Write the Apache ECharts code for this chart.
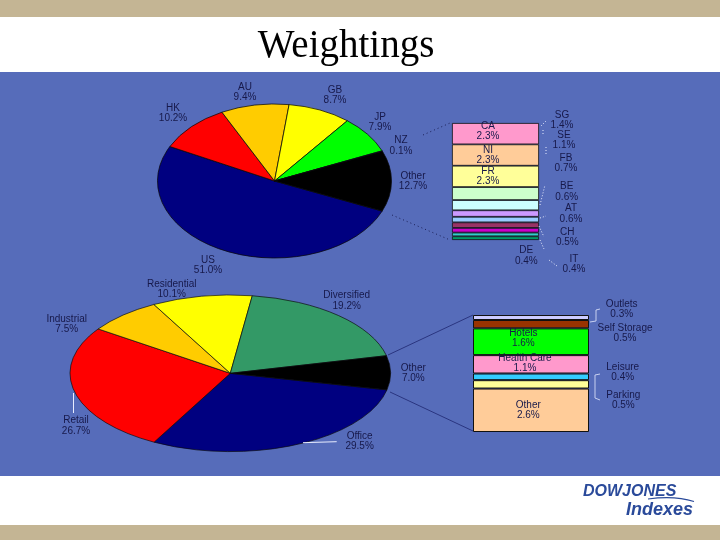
<!DOCTYPE html>
<html><head><meta charset="utf-8">
<script src="https://cdn.jsdelivr.net/npm/echarts@6/dist/echarts.min.js"></script>
<style>html,body{margin:0;padding:0;background:#fff}#c{width:720px;height:540px}</style>
</head><body><div id="c"></div>
<script>
// ---------------- data ----------------
const countryNames = ['US', 'HK', 'AU', 'GB', 'JP', 'NZ', 'Other'];
const countryWeights = [51.0, 10.2, 9.4, 8.7, 7.9, 0.1, 12.7];

const otherCountryNames = ['CA', 'NI', 'FR', 'SG', 'SE', 'FB', 'BE', 'AT', 'CH', 'DE', 'IT'];
const otherCountryWeights = [2.3, 2.3, 2.3, 1.4, 1.1, 0.7, 0.6, 0.6, 0.5, 0.4, 0.4];

const sectorNames = ['Office', 'Retail', 'Industrial', 'Residential', 'Diversified', 'Other'];
const sectorWeights = [29.5, 26.7, 7.5, 10.1, 19.2, 7.0];

const otherSectorNames = ['Outlets', 'Self Storage', 'Hotels', 'Health Care', 'Leisure', 'Parking', 'Other'];
const otherSectorWeights = [0.3, 0.5, 1.6, 1.1, 0.4, 0.5, 2.6];

const titleText = 'Weightings';

// ---------------- styles / layout ----------------
const LABEL_COLOR = '#17194a';
const FONT = '10px "Liberation Sans", Arial, sans-serif';
const countryColors = ['#000080', '#FF0000', '#FFCC00', '#FFFF00', '#00FF00', '#00CCCC', '#000000'];
const otherCountryColors = ['#FF99CC', '#FFCC99', '#FFFF99', '#CCFFCC', '#CCFFFF', '#CC99FF', '#99CCFF', '#993366', '#CC00CC', '#33CCCC', '#009966'];
const sectorColors = ['#000080', '#FF0000', '#FFCC00', '#FFFF00', '#339966', '#000000'];
const otherSectorColors = ['#CCCCFF', '#993300', '#00FF00', '#FF99CC', '#33CCFF', '#FFFF99', '#FFCC99'];

const topPie = {cx: 274.5, cy: 181, rx: 117, ry: 77, start: -23};
const botPie = {cx: 230.3, cy: 373.3, rx: 160.3, ry: 78.3, start: -12.2};

const countryLabelPos = {US: [208, 265], HK: [173, 113], AU: [245, 92], GB: [335, 95], JP: [380, 122], NZ: [401, 145.5], Other: [413, 181]};
const sectorLabelPos = {Office: [359.6, 441.2], Retail: [76, 425.5], Industrial: [66.7, 324.2], Residential: [171.7, 289.3], Diversified: [346.7, 300.5], Other: [413.3, 373]};
const otherCountryOutsidePos = {SG: [562, 120], SE: [564, 140.3], FB: [566, 163], BE: [566.7, 191.7], AT: [571, 213.7], CH: [567.3, 237], DE: [526.3, 255.5], IT: [574, 264]};
const otherCountryInside = {CA: {pos: 'insideTop', off: [-7.5, -2]}, NI: {pos: 'insideTop', off: [-7.5, 1]}, FR: {pos: 'insideTop', off: [-7.5, 0.5]}};
const otherSectorOutsidePos = {'Outlets': [621.7, 309], 'Self Storage': [625, 333], 'Leisure': [622.7, 372.3], 'Parking': [623.3, 400]};
const otherSectorInside = {'Hotels': {pos: 'insideTop', off: [-7.7, 0]}, 'Health Care': {pos: 'insideTop', off: [-6, -2]}, 'Other': {pos: 'inside', off: [-2.7, 0]}};

const pct = v => v.toFixed(1) + '%';

function ellipsePie(names, values, colors, p) {
  const total = values.reduce((a, b) => a + b, 0);
  const starts = [];
  let acc = 0;
  values.forEach(v => { starts.push(acc); acc += v; });
  return {
    type: 'custom', coordinateSystem: 'none', silent: true, z: 2,
    data: values.map((v, i) => ({name: names[i], value: [v, starts[i]]})),
    renderItem: (params, api) => {
      const v = api.value(0), s = api.value(1);
      const a0 = (p.start - s / total * 360) * Math.PI / 180;
      const a1 = (p.start - (s + v) / total * 360) * Math.PI / 180;
      return {
        type: 'sector', x: p.cx, y: p.cy, scaleX: 1, scaleY: p.ry / p.rx,
        shape: {cx: 0, cy: 0, r0: 0, r: p.rx, startAngle: -a0, endAngle: -a1, clockwise: true},
        style: {fill: colors[params.dataIndex], stroke: '#0a0a0a', lineWidth: 0.9, strokeNoScale: true}
      };
    }
  };
}

function stackSeries(names, values, colors, gi, inside, bw) {
  return names.map((n, i) => ({
    type: 'bar', name: n, stack: 'st' + gi, xAxisIndex: gi, yAxisIndex: gi,
    barWidth: '100%', silent: true, z: 3,
    data: [values[i]],
    itemStyle: {color: colors[i], borderColor: '#111', borderWidth: bw},
    label: inside[n] ? {
      show: true, position: inside[n].pos, distance: 0, offset: inside[n].off,
      formatter: n + '\n' + pct(values[i]), color: LABEL_COLOR,
      fontFamily: '"Liberation Sans", Arial, sans-serif', fontSize: 10, lineHeight: 10
    } : {show: false}
  }));
}

function labelText(text, x, y, extra) {
  return Object.assign({
    type: 'text', z: 100, silent: true,
    style: {text: text, x: x, y: y, font: FONT, fill: LABEL_COLOR,
      textAlign: 'center', align: 'center', textVerticalAlign: 'middle', verticalAlign: 'middle', lineHeight: 10.5}
  }, extra || {});
}

function line(pts, stroke, w, dash) {
  return {type: 'polyline', z: 50, silent: true, shape: {points: pts},
    style: {stroke: stroke, lineWidth: w, fill: null, lineDash: dash || null}};
}

const graphics = [
  {type: 'rect', z: -1, silent: true, shape: {x: 0, y: 0, width: 720, height: 17}, style: {fill: '#C4B594'}},
  {type: 'rect', z: -1, silent: true, shape: {x: 0, y: 72, width: 720, height: 404}, style: {fill: '#566CBA'}},
  {type: 'rect', z: -1, silent: true, shape: {x: 0, y: 525, width: 720, height: 15}, style: {fill: '#C4B594'}},
  {type: 'text', z: 100, silent: true, style: {text: titleText, x: 346, y: 47, font: '39px "Liberation Serif", "Times New Roman", serif', fill: '#000',
    textAlign: 'center', align: 'center', textVerticalAlign: 'middle', verticalAlign: 'middle'}},
  // logo
  {type: 'text', z: 100, silent: true, style: {text: 'DOWJONES', x: 583, y: 492, font: 'italic bold 16px "Liberation Sans", Arial, sans-serif', fill: '#2A4A9A',
    textAlign: 'left', align: 'left', textVerticalAlign: 'middle', verticalAlign: 'middle'}},
  {type: 'text', z: 100, silent: true, style: {text: 'Indexes', x: 693, y: 510, font: 'italic bold 18px "Liberation Sans", Arial, sans-serif', fill: '#2A4A9A',
    textAlign: 'right', align: 'right', textVerticalAlign: 'middle', verticalAlign: 'middle'}},
  {type: 'bezierCurve', z: 100, silent: true, shape: {x1: 648, y1: 499, x2: 694, y2: 501.5, cpx1: 662, cpy1: 497, cpx2: 680, cpy2: 497},
    style: {stroke: '#2A4A9A', lineWidth: 1.1, fill: null}},
  // connectors top pie -> box
  line([[423, 135], [450, 123]], '#1a1e55', 1, [1, 3]),
  line([[392, 215], [450, 240]], '#1a1e55', 1, [1, 3]),
  // connectors bottom pie -> box
  line([[388, 355], [473, 315]], '#2a3580', 1),
  line([[390, 392], [473, 431]], '#2a3580', 1),
  // leaders top box
  line([[541, 126], [547, 120]], '#e8ecff', 1, [1, 2]),
  line([[543, 130], [543, 134]], '#e8ecff', 1, [1, 2]),
  line([[546, 147], [546, 156]], '#e8ecff', 1, [1, 2]),
  line([[540, 205], [545, 185]], '#e8ecff', 1, [1, 2]),
  line([[540, 218], [546, 216]], '#e8ecff', 1, [1, 2]),
  line([[539, 226], [544, 237]], '#e8ecff', 1, [1, 2]),
  line([[540, 240], [544, 249]], '#e8ecff', 1, [1, 2]),
  line([[549, 260], [557, 266]], '#e8ecff', 1, [1, 2]),
  // leaders bottom box
  line([[600, 309], [596, 310], [596, 321], [590, 322]], '#c8d0f0', 1),
  line([[600, 374], [595, 375], [595, 398], [600, 400]], '#c8d0f0', 1),
  line([[73.5, 393], [73.5, 413]], '#e8ecff', 1),
  line([[303, 442.7], [336.7, 441.7]], '#e8ecff', 1)
];

countryNames.forEach((n, i) => {
  const p = countryLabelPos[n];
  graphics.push(labelText(n + '\n' + pct(countryWeights[i]), p[0], p[1]));
});
sectorNames.forEach((n, i) => {
  const p = sectorLabelPos[n];
  graphics.push(labelText(n + '\n' + pct(sectorWeights[i]), p[0], p[1]));
});
otherCountryNames.forEach((n, i) => {
  const p = otherCountryOutsidePos[n];
  if (p) graphics.push(labelText(n + '\n' + pct(otherCountryWeights[i]), p[0], p[1]));
});
otherSectorNames.forEach((n, i) => {
  const p = otherSectorOutsidePos[n];
  if (p) graphics.push(labelText(n + '\n' + pct(otherSectorWeights[i]), p[0], p[1]));
});

const sumC = otherCountryWeights.reduce((a, b) => a + b, 0);
const sumS = otherSectorWeights.reduce((a, b) => a + b, 0);

const option = {
  animation: false,
  backgroundColor: '#ffffff',
  grid: [
    {left: 452, top: 123, width: 87, height: 117},
    {left: 473, top: 315, width: 116, height: 117}
  ],
  xAxis: [
    {type: 'category', gridIndex: 0, data: ['x'], show: false},
    {type: 'category', gridIndex: 1, data: ['x'], show: false}
  ],
  yAxis: [
    {type: 'value', gridIndex: 0, min: 0, max: sumC, inverse: true, show: false},
    {type: 'value', gridIndex: 1, min: 0, max: sumS, inverse: true, show: false}
  ],
  graphic: graphics,
  series: [
    ellipsePie(countryNames, countryWeights, countryColors, topPie),
    ellipsePie(sectorNames, sectorWeights, sectorColors, botPie)
  ].concat(
    stackSeries(otherCountryNames, otherCountryWeights, otherCountryColors, 0, otherCountryInside, 0.8),
    stackSeries(otherSectorNames, otherSectorWeights, otherSectorColors, 1, otherSectorInside, 1)
  )
};

const chart = echarts.init(document.getElementById('c'));
chart.setOption(option);
</script>
</body></html>
